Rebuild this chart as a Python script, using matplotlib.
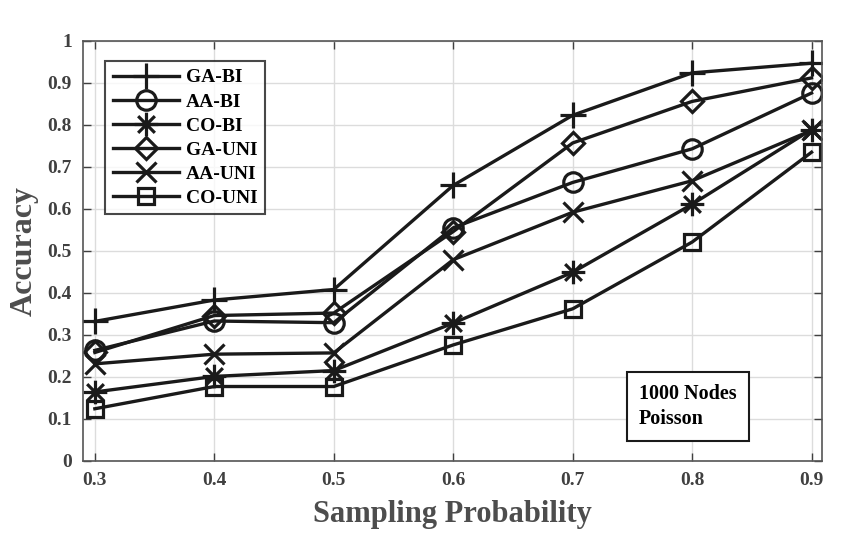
import matplotlib
matplotlib.use("Agg")
import matplotlib.pyplot as plt
from matplotlib.path import Path

# sampling probability on x axis
prob = [0.3, 0.4, 0.5, 0.6, 0.7, 0.8, 0.9]

ga_bi = [0.332, 0.383, 0.408, 0.656, 0.823, 0.924, 0.947]
aa_bi = [0.263, 0.333, 0.329, 0.555, 0.663, 0.743, 0.876]
co_bi = [0.164, 0.201, 0.215, 0.328, 0.449, 0.611, 0.789]
ga_uni = [0.258, 0.346, 0.352, 0.546, 0.757, 0.856, 0.912]
aa_uni = [0.231, 0.254, 0.257, 0.479, 0.592, 0.667, 0.787]
co_uni = [0.124, 0.177, 0.177, 0.276, 0.362, 0.521, 0.735]

labels = ["GA-BI", "AA-BI", "CO-BI", "GA-UNI", "AA-UNI", "CO-UNI"]
series = [ga_bi, aa_bi, co_bi, ga_uni, aa_uni, co_uni]

# matlab style asterisk: plus and cross together
d = 0.7071
asterisk = Path([(0, -1), (0, 1), (-1, 0), (1, 0), (-d, -d), (d, d), (-d, d), (d, -d)],
                [Path.MOVETO, Path.LINETO] * 4)

markers = ["+", "o", asterisk, "D", "x", "s"]
msizes = [19, 14, 17, 11, 15, 11]

plt.rcParams["font.family"] = ["Liberation Serif", "DejaVu Serif"]
plt.rcParams["font.weight"] = "bold"

fig = plt.figure(figsize=(8.46, 5.46), dpi=100)
ax = fig.add_axes([0.098, 0.156, 0.874, 0.769])

for y, lab, m, ms in zip(series, labels, markers, msizes):
    ax.plot(prob, y, color="#1a1a1a", lw=2.4, marker=m, ms=ms,
            markerfacecolor="none", markeredgecolor="#1a1a1a", mew=2.3, label=lab)

ax.set_xlim(0.29, 0.909)
ax.set_ylim(0, 1)
ax.set_xticks(prob)
ax.set_xticklabels(["0.3", "0.4", "0.5", "0.6", "0.7", "0.8", "0.9"])
ax.set_yticks([i / 10 for i in range(11)])
ax.set_yticklabels(["0", "0.1", "0.2", "0.3", "0.4", "0.5", "0.6", "0.7", "0.8", "0.9", "1"])
ax.grid(True, color="#dcdcdc", lw=1)
ax.set_axisbelow(True)
ax.tick_params(direction="in", top=True, right=True, length=6, colors="#404040",
               labelsize=14, width=1, pad=8)
for t in ax.get_xticklabels() + ax.get_yticklabels():
    t.set_fontweight("bold")
for s in ax.spines.values():
    s.set_color("#555555")
    s.set_linewidth(1.2)

ax.set_xlabel("Sampling Probability", fontsize=22, fontweight="bold", color="#4d4d4d", labelpad=8)
ax.set_ylabel("Accuracy", fontsize=23, fontweight="bold", color="#4d4d4d", labelpad=6)

leg = ax.legend(loc="upper left", bbox_to_anchor=(0.03, 0.952), fontsize=14, frameon=True,
                fancybox=False, edgecolor="#1a1a1a", handlelength=3.4, borderpad=0.4,
                labelspacing=0.33, handletextpad=0.35, borderaxespad=0)
leg.get_frame().set_linewidth(1.5)
for t in leg.get_texts():
    t.set_fontweight("bold")

ax.text(0.752, 0.129, "1000 Nodes\nPoisson", transform=ax.transAxes, fontsize=14.5,
        fontweight="bold", va="center", ha="left", linespacing=1.3,
        bbox=dict(boxstyle="square,pad=0.6", facecolor="white", edgecolor="#1a1a1a", lw=1.5))

fig.savefig("out.png", dpi=100)
